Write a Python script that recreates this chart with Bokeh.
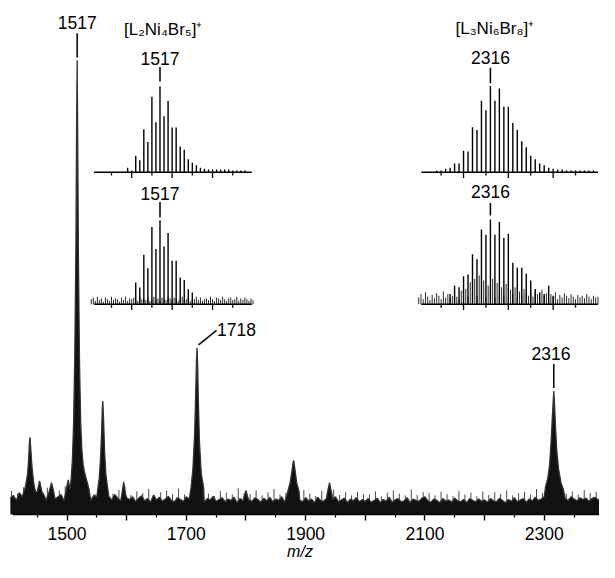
import numpy as np
from bokeh.plotting import figure
from bokeh.models import Range1d, LinearAxis, FixedTicker
from bokeh.embed import file_html
from bokeh.resources import INLINE
from bokeh.core.properties import value

FONT = "Liberation Sans"

# ---------------- main spectrum data (relative intensity, 1517 = 100) ----------------
noise_mz = list(range(1405, 2400, 5))
noise_int = [
    3.6, 4.2, 3.1, 4.8, 3.9, 3.3, 4.5, 3.8, 2.9, 4.1, 3.5, 4.6, 3.2, 4.0, 4.9, 3.4, 3.9, 4.4, 3.0, 4.7,
    3.8, 4.3, 3.6, 4.1, 3.3, 4.5, 3.7, 3.1, 4.2, 3.9, 3.4, 4.6, 3.5, 4.0, 3.2, 4.4, 3.6, 3.0, 4.2, 3.7,
    3.3, 3.9, 2.8, 3.6, 4.1, 3.0, 3.5, 2.7, 4.3, 3.2, 3.8, 2.9, 3.4, 4.0, 3.1, 2.8, 3.7, 3.3, 2.9, 3.9,
    3.4, 2.8, 3.6, 3.1, 3.9, 2.7, 3.5, 3.2, 4.0, 2.9, 3.3, 3.7, 2.8, 3.4, 3.1, 3.8, 2.6, 3.5, 3.0, 3.6,
    3.2, 2.9, 3.7, 3.3, 2.7, 3.6, 3.0, 3.8, 2.8, 3.4, 3.1, 3.9, 2.7, 3.3, 3.6, 2.9, 3.5, 3.2, 2.8, 3.7,
    3.0, 3.4, 2.6, 3.8, 3.1, 2.9, 3.5, 2.7, 3.3, 3.9, 2.8, 3.2, 3.6, 2.6, 3.4, 3.0, 3.7, 2.8, 3.3, 2.9,
    3.5, 2.7, 3.1, 3.6, 2.6, 3.3, 2.9, 3.8, 2.7, 3.2, 3.5, 2.8, 3.0, 3.7, 2.6, 3.4, 3.1, 2.9, 3.6, 3.9,
    3.0, 2.7, 3.4, 3.1, 2.6, 3.5, 2.9, 3.2, 2.7, 3.6, 3.0, 2.8, 3.3, 2.6, 3.5, 3.1, 2.8, 3.4, 2.9, 3.2,
    2.7, 3.5, 3.0, 2.8, 3.6, 3.1, 2.6, 3.3, 2.9, 3.7, 2.8, 3.2, 3.5, 2.7, 3.4, 3.0, 3.8, 3.1, 3.4, 3.9,
    3.6, 4.0, 3.3, 3.5, 3.8, 3.2, 3.6, 3.1, 3.9, 3.4, 3.0, 3.7, 3.3, 3.6, 2.9, 3.5, 3.8, 3.2, 3.6,
]
spike_mz = list(range(1407, 2395, 10))
spike_int = [
    5.2, 4.6, 6.0, 4.9, 5.6, 4.4, 5.9, 4.8, 5.3, 6.2,
    4.7, 5.5, 4.9, 5.8, 4.5, 6.1, 5.0, 4.6, 5.4, 6.4,
    4.3, 5.1, 4.7, 5.6, 4.2, 4.9, 5.3, 4.5, 5.7, 4.4,
    5.0, 4.3, 5.5, 4.6, 4.1, 5.2, 4.8, 4.4, 5.8, 4.7,
    4.5, 5.3, 4.2, 4.9, 5.6, 4.4, 4.8, 5.1, 4.3, 5.4,
    4.6, 4.1, 5.2, 4.7, 5.5, 4.3, 4.9, 4.2, 5.0, 4.5,
    4.4, 5.1, 4.0, 4.8, 5.3, 4.6, 4.2, 5.5, 4.3, 4.9,
    4.7, 4.2, 5.0, 4.5, 4.1, 5.2, 4.4, 4.8, 4.0, 5.1,
    4.3, 4.9, 4.5, 5.3, 4.2, 4.7, 5.0, 4.4, 5.6, 4.8,
    5.2, 4.9, 5.5, 4.6, 5.1, 4.4, 5.4, 4.7, 5.0,
]

peak_mz = [
    [1430, 1434, 1436, 1437, 1438, 1439, 1441, 1444, 1447],
    [1450, 1454, 1458],
    [1470, 1474, 1478],
    [1498, 1502, 1505],
    [1507, 1509, 1511, 1513, 1515, 1516, 1517, 1518, 1519, 1521, 1523, 1525, 1527, 1529, 1532, 1536],
    [1551, 1554, 1556, 1558, 1559, 1560, 1561, 1563, 1565, 1568],
    [1592, 1595, 1598],
    [1708, 1711, 1714, 1716, 1717, 1718, 1719, 1720, 1722, 1725, 1729],
    [1797, 1800, 1803],
    [1870, 1874, 1877, 1879, 1880, 1882, 1885, 1889],
    [1936, 1940, 1944],
    [2302, 2306, 2309, 2311, 2313, 2315, 2316, 2317, 2319, 2321, 2324, 2328, 2332],
]
peak_int = [
    [6, 9, 13, 16, 17, 15, 11, 7, 5],
    [5, 7.4, 5],
    [5, 7, 4.8],
    [5, 7.6, 5.5],
    [8, 12, 20, 35, 60, 85, 100, 82, 58, 33, 20, 14, 11, 9.5, 8, 6],
    [5, 8, 12, 18, 23, 25, 22, 14, 9, 6],
    [4.5, 7.2, 4.5],
    [6, 10, 18, 28, 34, 36.7, 33, 26, 16, 9, 6],
    [4, 5.3, 3.8],
    [5, 7, 9.5, 11.5, 11.9, 10, 7, 5],
    [4.5, 7, 4.5],
    [6, 8, 11, 15, 20, 25, 27.2, 25, 19, 14, 10, 7, 5.5],
]

main_ticks = [1500, 1600, 1700, 1800, 1900, 2000, 2100, 2200, 2300]
main_tick_labels = ["1500", "", "1700", "", "1900", "", "2100", "", "2300"]
main_minor = [1450, 1550, 1650, 1750, 1850, 1950, 2050, 2150, 2250, 2350]

main_peak_labels = ["1517", "1718", "2316"]
main_peak_pos = [1517, 1718, 2316]
main_peak_top = [100, 36.7, 27.2]

# ---------------- inset data (relative intensity, labelled peak = 100) ----------------
ul_mz = list(range(1509, 1539))
ul_int = [5, 2, 19, 14, 50, 35, 88, 58, 100, 65, 83, 52, 52, 30, 26, 15, 11, 8, 5, 4,
          3, 3, 3, 3, 3, 3, 2, 2, 2, 2]

ll_mz = list(range(1511, 1526))
ll_int = [26, 20, 59, 43, 92, 66, 100, 69, 85, 52, 52, 32, 29, 18, 14]
ll_noise_mz = list(np.arange(1500, 1540.01, 0.5))
ll_noise = [
    6, 8, 4, 9, 5, 7, 3, 8, 6, 4, 9, 5, 7, 6, 3, 8, 5, 9, 4, 7,
    6, 8, 5, 4, 9, 6, 7, 5, 8, 4, 6, 9, 5, 7, 4, 8, 6, 5, 9, 7,
    5, 8, 6, 4, 7, 9, 5, 6, 8, 4, 7, 6, 9, 5, 8, 4, 6, 7, 5, 9,
    6, 4, 8, 7, 5, 9, 6, 4, 7, 8, 5, 6, 9, 4, 7, 5, 8, 6, 4, 7,
    5,
]

ur_mz = list(range(2304, 2340))
ur_int = [2, 2, 4, 5, 10, 10, 25, 24, 52, 49, 83, 72, 100, 83, 97, 76, 76, 57, 49, 36,
          29, 19, 15, 10, 8, 5, 4, 3, 3, 2, 2, 2, 2, 2, 2, 2]

lr_mz = list(range(2307, 2331))
lr_int = [12, 22, 20, 33, 35, 59, 53, 88, 82, 100, 82, 97, 78, 83, 49, 43, 43, 36, 28, 18,
          14, 12, 22, 10]
lr_noise_mz = list(np.arange(2300, 2340.01, 0.5))
lr_noise = [
    8, 12, 6, 14, 9, 5, 11, 7, 13, 10, 6, 15, 8, 12, 7, 10, 14, 9, 6, 16,
    11, 18, 9, 26, 13, 30, 10, 34, 12, 28, 9, 22, 14, 30, 8, 25, 12, 20, 10, 24,
    9, 17, 12, 20, 8, 15, 11, 18, 13, 10, 16, 9, 14, 12, 8, 17, 10, 13, 7, 12,
    9, 14, 6, 11, 8, 13, 10, 7, 12, 9, 6, 11, 8, 10, 7, 12, 9, 6, 10, 8,
    9,
]

left_ticks, left_minor = [1510, 1520, 1530], [1505, 1515, 1525, 1535]
right_ticks, right_minor = [2310, 2320, 2330], [2305, 2315, 2325, 2335]
left_title = "[L\u2082Ni\u2084Br\u2085]\u207A"
right_title = "[L\u2083Ni\u2086Br\u2088]\u207A"

# ---------------- layout: parent ranges expressed in reference-image pixels ----------------
W, H = 599, 562
REF_W = 615
AXIS_REF = 533
BOTTOM = 46
S = (H - BOTTOM) / AXIS_REF
PX_MAIN = (AXIS_REF - 62) / 100.0
MZ_RANGE = (1388.5, 2392.6)
PX_MZ = REF_W / (MZ_RANGE[1] - MZ_RANGE[0])

p = figure(width=W, height=H, output_backend="svg", toolbar_location=None,
           x_range=Range1d(0, REF_W), y_range=Range1d(AXIS_REF, 0),
           x_axis_type=None, y_axis_type=None,
           min_border_left=0, min_border_right=0, min_border_top=0, min_border_bottom=BOTTOM,
           outline_line_color=None, background_fill_color="white", border_fill_color="white")

p.extra_x_ranges = {"mz": Range1d(*MZ_RANGE)}
p.extra_y_ranges = {"int": Range1d(0, AXIS_REF / PX_MAIN)}

ax = LinearAxis(x_range_name="mz",
                ticker=FixedTicker(ticks=main_ticks, minor_ticks=main_minor),
                major_label_overrides=dict(zip(main_ticks, main_tick_labels)),
                bounds=(1408, MZ_RANGE[1]),
                axis_line_width=1.6, axis_line_color="black",
                major_tick_out=6, major_tick_in=0, minor_tick_out=3, minor_tick_in=0,
                major_tick_line_width=1.4, minor_tick_line_width=1.2,
                major_tick_line_color="black", minor_tick_line_color="black",
                major_label_text_font=FONT, major_label_text_font_size="17.5px",
                major_label_text_color="black", major_label_standoff=6,
                axis_label="m/z", axis_label_text_font=FONT,
                axis_label_text_font_style="italic", axis_label_text_font_size="16px",
                axis_label_text_color="black", axis_label_standoff=0)
p.add_layout(ax, "below")

spans = [(min(m), max(m)) for m in peak_mz]
pts = [(m, v) for m, v in zip(noise_mz, noise_int) if not any(a <= m <= b for a, b in spans)]
for ms, vs in zip(peak_mz, peak_int):
    pts += list(zip(ms, vs))
pts.sort()
spec_mz = [a for a, _ in pts]
spec_int = [b for _, b in pts]

p.segment(x0=spike_mz, y0=0, x1=spike_mz, y1=spike_int, line_color="#4a4a4a", line_width=1,
          x_range_name="mz", y_range_name="int")
p.varea(x=spec_mz, y1=0, y2=spec_int, fill_color="#111111",
        x_range_name="mz", y_range_name="int")
p.line(spec_mz, spec_int, line_color="#333333", line_width=1.3,
       x_range_name="mz", y_range_name="int")

txt = dict(text_font=value(FONT), text_font_size="17.5px", text_color="black",
           text_baseline="middle")
p.text(x=[main_peak_pos[0]], y=[main_peak_top[0]], text=[main_peak_labels[0]],
       y_offset=-39.5 * S, text_align="center", x_range_name="mz", y_range_name="int", **txt)
p.segment(x0=[main_peak_pos[0]], y0=[main_peak_top[0] + 3 / PX_MAIN],
          x1=[main_peak_pos[0]], y1=[main_peak_top[0] + 28 / PX_MAIN],
          line_color="black", line_width=1.5, x_range_name="mz", y_range_name="int")
p.text(x=[main_peak_pos[2]], y=[main_peak_top[2]], text=[main_peak_labels[2]],
       y_offset=-39 * S, x_offset=-3 * S, text_align="center",
       x_range_name="mz", y_range_name="int", **txt)
p.segment(x0=[main_peak_pos[2]], y0=[main_peak_top[2] + 3 / PX_MAIN],
          x1=[main_peak_pos[2]], y1=[main_peak_top[2] + 28 / PX_MAIN],
          line_color="black", line_width=1.5, x_range_name="mz", y_range_name="int")
p.segment(x0=[main_peak_pos[1] + 1.5 / PX_MZ], y0=[main_peak_top[1] + 3 / PX_MAIN],
          x1=[main_peak_pos[1] + 20 / PX_MZ], y1=[main_peak_top[1] + 18 / PX_MAIN],
          line_color="black", line_width=1.5, x_range_name="mz", y_range_name="int")
p.text(x=[main_peak_pos[1] + 20.5 / PX_MZ], y=[main_peak_top[1]], text=[main_peak_labels[1]],
       y_offset=-19 * S, text_align="left", x_range_name="mz", y_range_name="int", **txt)


def make_inset(x_src, x_tgt, y_base, y_top):
    return p.subplot(x_source=Range1d(*x_src), y_source=Range1d(0, 100),
                     x_target=Range1d(*x_tgt), y_target=Range1d(y_base, y_top))


def draw_inset(xy, y_base, y_top, mz, inten, ticks, minor, axis_bounds,
               label, label_pos, title=None, title_pos=None,
               noise_mz=None, noise=None, lab_off=29, tick_span=(4, 19)):
    py = (y_base - y_top) / 100.0
    if noise_mz is not None:
        xy.segment(x0=noise_mz, y0=0, x1=noise_mz, y1=noise, line_color="#2a2a2a", line_width=1)
    xy.segment(x0=mz, y0=0, x1=mz, y1=inten, line_color="black", line_width=1.4)
    xy.segment(x0=[axis_bounds[0]], y0=[0], x1=[axis_bounds[1]], y1=[0],
               line_color="black", line_width=1.5)
    xy.segment(x0=ticks, y0=0, x1=ticks, y1=-6 / py, line_color="black", line_width=1.3)
    xy.segment(x0=minor, y0=0, x1=minor, y1=-3.5 / py, line_color="black", line_width=1.3)
    xy.text(x=[label_pos], y=[100], text=[label], y_offset=-lab_off * S, text_align="center", **txt)
    xy.segment(x0=[label_pos], y0=[100 + tick_span[0] / py], x1=[label_pos],
               y1=[100 + tick_span[1] / py], line_color="black", line_width=1.5)
    if title is not None:
        xy.text(x=[title_pos], y=[100], text=[title], y_offset=-59 * S, text_align="center",
                text_font=value(FONT), text_font_size="17px", text_color="black",
                text_baseline="middle")


ul = make_inset((1500, 1540), (93.2, 259.2), 178, 89)
draw_inset(ul, 178, 89, ul_mz, ul_int, left_ticks, left_minor, (1500.7, 1539.7),
           "1517", 1517, left_title, 1517.8, tick_span=(5, 20))

ll = make_inset((1500, 1540), (93.2, 259.2), 315, 228)
draw_inset(ll, 315, 228, ll_mz, ll_int, left_ticks, left_minor, (1500.7, 1539.7),
           "1517", 1517, noise_mz=ll_noise_mz, noise=ll_noise, lab_off=28, tick_span=(3, 19))

ur = make_inset((2300, 2340), (429.4, 613.4), 178, 88.7)
draw_inset(ur, 178, 88.7, ur_mz, ur_int, right_ticks, right_minor, (2300.6, 2340),
           "2316", 2316, right_title, 2317, tick_span=(3, 19))

lr = make_inset((2300, 2340), (429.4, 613.4), 315, 227)
draw_inset(lr, 315, 227, lr_mz, lr_int, right_ticks, right_minor, (2300.6, 2340),
           "2316", 2316, noise_mz=lr_noise_mz, noise=lr_noise, lab_off=29, tick_span=(4, 17))

open("out.html", "w").write(file_html(p, INLINE))
